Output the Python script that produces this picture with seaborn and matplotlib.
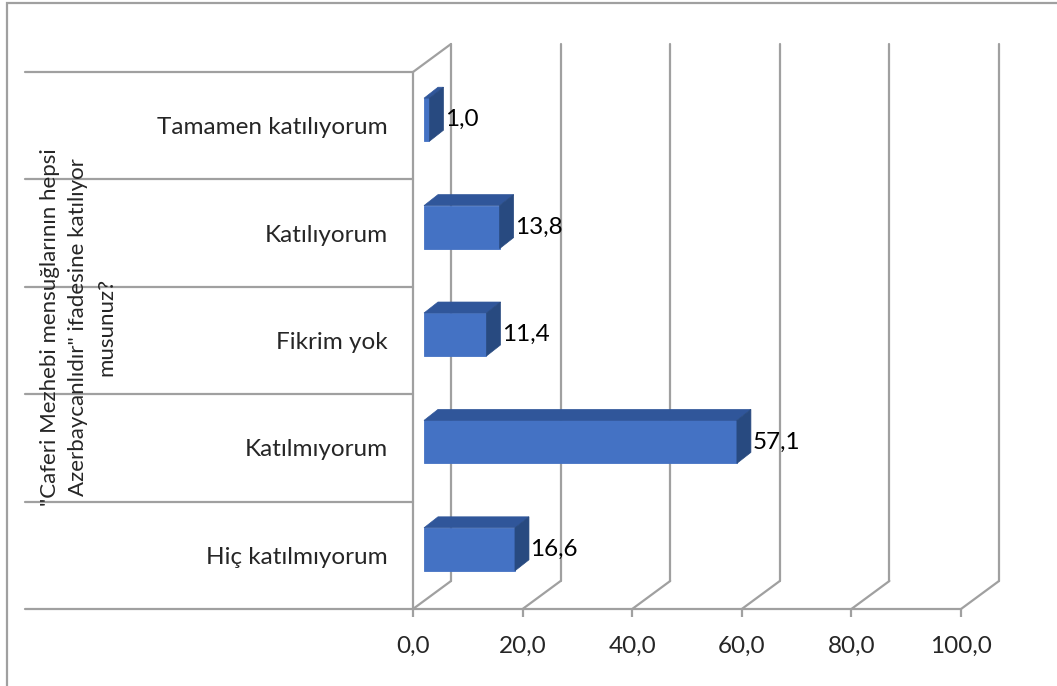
import matplotlib
matplotlib.use("Agg")
import matplotlib.pyplot as plt
from matplotlib.patches import Polygon, Rectangle
from matplotlib.transforms import ScaledTranslation
import seaborn as sns

# datos del grafico
categorias = ["Tamamen katılıyorum", "Katılıyorum", "Fikrim yok", "Katılmıyorum", "Hiç katılmıyorum"]
valores = [1.0, 13.8, 11.4, 57.1, 16.6]
ticks_x = [0, 20, 40, 60, 80, 100]
etiquetas_x = ["0,0", "20,0", "40,0", "60,0", "80,0", "100,0"]
titulo_y = "\"Caferi Mezhebi mensuğlarının hepsi\nAzerbaycanlıdır\" ifadesine katılıyor\nmusunuz?"

sns.set_style("white")
plt.rcParams["font.family"] = ["Lato", "DejaVu Sans"]
FS = 17.5

W, H = 1057, 686
fig = plt.figure(figsize=(W / 100, H / 100), dpi=100)
# plano frontal del grafico 3D (en pixeles)
L, R, T, B = 413, 961, 72, 609
ax = fig.add_axes([L / W, (H - B) / H, (R - L) / W, (B - T) / H])

FRENTE = "#4472C4"
ARRIBA = "#30569A"
LADO = "#284A80"
GRIS = "#A0A0A0"

sns.barplot(x=valores, y=categorias, orient="h", color=FRENTE, saturation=1,
            width=0.40, linewidth=0.6, edgecolor=FRENTE, ax=ax)
ax.set_xlim(0, 100)
ax.set_ylim(4.5, -0.5)
for s in ax.spines.values():
    s.set_visible(False)

sx = (R - L) / 100.0   # px por unidad x
sy = (B - T) / 5.0     # px por categoria
DX, DY = 38 / sx, 28 / sy        # fondo de la pared
BDX, BDY = 14 / sx, 11 / sy      # profundidad de cada barra

# barras desplazadas hacia el interior
bar_tr = ax.transData + ScaledTranslation(11 / 100, 6 / 100, fig.dpi_scale_trans)

# paredes y lineas de cuadricula
kw = dict(color=GRIS, lw=1.6, clip_on=False, zorder=0)
for v in ticks_x:
    ax.plot([v + DX, v + DX], [-0.5 - DY, 4.5 - DY], **kw)
    ax.plot([v, v + DX], [4.5, 4.5 - DY], **kw)
ax.plot([0, 0], [-0.5, 4.5], **kw)
ax.plot([0, DX], [-0.5, -0.5 - DY], **kw)
ax.plot([0, 100], [4.5, 4.5], **kw)

# lineas de separacion de categorias a la izquierda
ytr = ax.get_yaxis_transform()
x_izq = (25 - L) / (R - L)
for y in [-0.5, 0.5, 1.5, 2.5, 3.5, 4.5]:
    ax.plot([x_izq, 0], [y, y], color=GRIS, lw=1.6, clip_on=False, transform=ytr)

# caras superior y lateral de las barras
for p, v in zip(ax.patches, valores):
    p.set_transform(bar_tr)
    p.set_zorder(3)
    x0, x1 = p.get_x(), p.get_x() + p.get_width()
    ya, yb = sorted([p.get_y(), p.get_y() + p.get_height()])
    top = [(x0, ya), (x1, ya), (x1 + BDX, ya - BDY), (x0 + BDX, ya - BDY)]
    side = [(x1, ya), (x1 + BDX, ya - BDY), (x1 + BDX, yb - BDY), (x1, yb)]
    ax.add_patch(Polygon(top, closed=True, fc=ARRIBA, ec=ARRIBA, lw=0.5, transform=bar_tr, zorder=3, clip_on=False))
    ax.add_patch(Polygon(side, closed=True, fc=LADO, ec=LADO, lw=0.5, transform=bar_tr, zorder=3, clip_on=False))
    ax.text(x1 + BDX + 1.5 / sx, (ya + yb) / 2, f"{v:.1f}".replace(".", ","),
            transform=bar_tr, ha="left", va="center", fontsize=FS, color="black", zorder=4)

ax.set_xticks(ticks_x)
ax.set_xticklabels(etiquetas_x, fontsize=FS)
ax.tick_params(axis="x", length=6, width=1.6, color=GRIS, pad=13, bottom=True)
ax.tick_params(axis="y", length=0, pad=18, labelsize=FS)
ax.set_ylabel("")
ax.set_xlabel("")

fig.text(78 / W, 1 - 327 / H, titulo_y, rotation=90, ha="center", va="center",
         multialignment="center", fontsize=16, linespacing=1.5)

# borde exterior
fig.patches.append(Rectangle((7 / W, -0.05), 1.1, 1.05 - 3 / H, transform=fig.transFigure,
                             fill=False, ec=GRIS, lw=1.6))

fig.savefig("out.png", dpi=100)
